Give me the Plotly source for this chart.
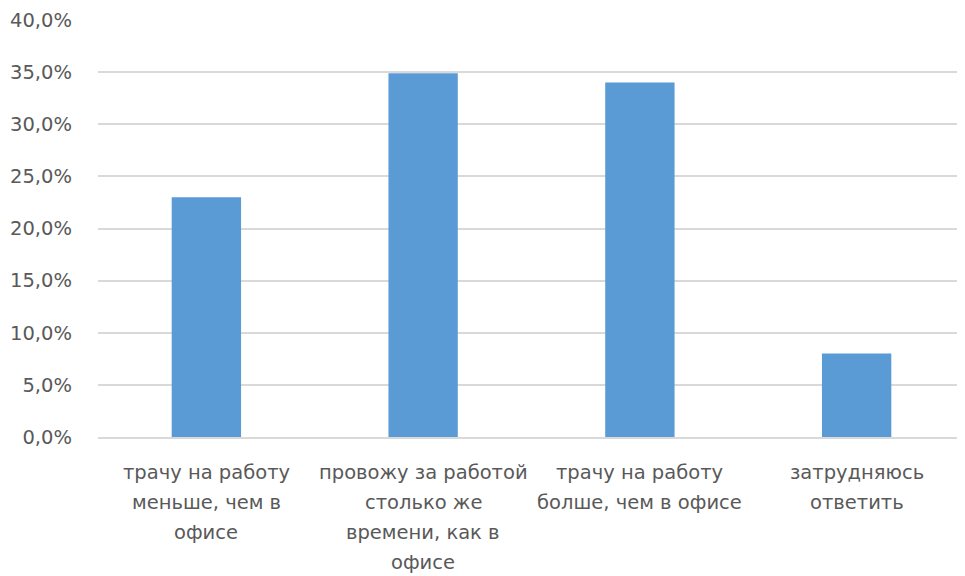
import plotly.graph_objects as go

categories = [
    "трачу на работу меньше, чем в офисе",
    "провожу за работой столько же времени, как в офисе",
    "трачу на работу болше, чем в офисе",
    "затрудняюсь ответить",
]
label_lines = [
    ["трачу на работу", "меньше, чем в", "офисе"],
    ["провожу за работой", "столько же", "времени, как в", "офисе"],
    ["трачу на работу", "болше, чем в офисе"],
    ["затрудняюсь", "ответить"],
]
values = [0.23, 0.349, 0.34, 0.08]

FONT = "DejaVu Sans"
GRAY = "#595959"
FS = 19.5

fig = go.Figure(go.Bar(x=categories, y=values, marker=dict(color="#5B9BD5", line=dict(width=0)), width=0.32))

annotations = []
for cat, lines in zip(categories, label_lines):
    for i, ln in enumerate(lines):
        annotations.append(dict(
            x=cat, xref="x", y=0, yref="paper", yanchor="middle", yshift=-35 - 30 * i,
            text=ln, showarrow=False, font=dict(family=FONT, size=FS, color=GRAY),
        ))

fig.update_layout(
    width=957, height=568,
    margin=dict(l=90, r=0, t=12, b=139),
    paper_bgcolor="white", plot_bgcolor="white",
    separators=", ",
    showlegend=False,
    annotations=annotations,
    font=dict(family=FONT, size=FS, color=GRAY),
    xaxis=dict(showticklabels=False, showline=True, linecolor="#d9d9d9", linewidth=1.5, ticks=""),
    yaxis=dict(range=[0, 0.4], dtick=0.05, tickformat=".1%", showgrid=True, gridcolor="#d9d9d9",
               gridwidth=1.5, zeroline=False, ticklabelstandoff=25,
               tickfont=dict(family=FONT, size=FS, color=GRAY)),
)

fig.write_html("out.html")
